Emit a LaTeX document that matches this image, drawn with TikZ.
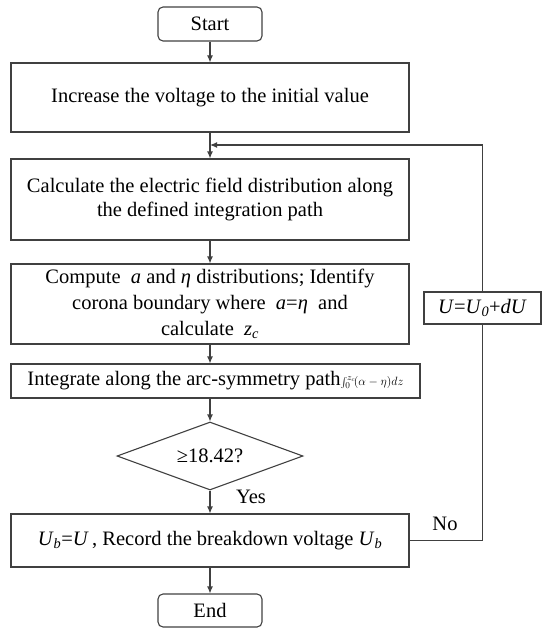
\documentclass[tikz,border=0pt]{standalone}
\usepackage{fontspec}
\setmainfont{Liberation Serif}
\usetikzlibrary{positioning,shapes.geometric,arrows.meta}

\tikzset{
  flowline/.style={draw=black!75,line width=1.1pt},
  arr/.style={flowline,-{Latex[length=7pt,width=6pt]}},
  procbox/.style={flowline,rectangle,align=center,inner sep=2pt,
    minimum width=398pt,font=\fontsize{20.5}{23.5}\selectfont},
  termbox/.style={procbox,rounded corners=5pt,minimum width=104pt,minimum height=34pt},
  decbox/.style={flowline,diamond,aspect=2.75,inner sep=0pt,
    minimum width=186pt,minimum height=68pt,font=\fontsize{20.5}{23.5}\selectfont},
  lbl/.style={font=\fontsize{20.5}{23.5}\selectfont}
}
\newcommand{\iv}[1]{\textit{#1}}

\begin{document}
\begin{tikzpicture}[x=1pt,y=1pt]
  \useasboundingbox (0,0) rectangle (550,-634);
  % main column
  \node[termbox] (start) at (210,-24) {Start};
  \node[procbox,minimum height=69pt] (inc) at (210,-97.5)
    {Increase the voltage to the initial value};
  \node[procbox,minimum height=81pt] (calc) at (210,-199.5)
    {Calculate the electric field distribution along\\the defined integration path};
  \node[procbox,minimum height=80pt,font=\fontsize{20.5}{26}\selectfont] (comp) at (210,-304)
    {Compute\ \ \iv{a} and \iv{η} distributions; Identify\\
     corona boundary where\ \ \iv{a}=\iv{η}\ \ and\\
     calculate\ \ \iv{z}\textsubscript{\iv{c}}};
  \node[procbox,minimum width=409pt,minimum height=34pt,inner sep=0pt] (integ) at (215.5,-381)
    {Integrate along the arc-symmetry path{\fontsize{13}{13}\selectfont$\int_0^{z_c}\!(\alpha-\eta)dz$}};
  \node[decbox] (check) at (210,-456) {≥18.42?};
  \node[procbox,minimum height=53pt] (rec) at (210,-540.5)
    {\iv{U}\textsubscript{\iv{b}}=\iv{U}\,, Record the breakdown voltage \iv{U}\textsubscript{\iv{b}}};
  \node[termbox,minimum height=33pt] (stop) at (210,-610.5) {End};
  % update branch
  \node[procbox,minimum width=117pt,minimum height=32pt] (upd) at (482.5,-308)
    {\iv{U}=\iv{U}\textsubscript{\iv{0}}+\iv{dU}};
  \coordinate (join) at (210,-145);
  \node[lbl] (yes) at (251,-497) {Yes};
  \node[lbl] (no) at (445,-524) {No};
  % connectors
  \draw[arr] (start) -- (inc);
  \draw[arr] (inc) -- (calc);
  \draw[arr] (calc) -- (comp);
  \draw[arr] (comp) -- (comp|-integ.north);
  \draw[arr] (check.north|-integ.south) -- (check);
  \draw[arr] (check) -- (rec);
  \draw[arr] (rec) -- (stop);
  \draw[flowline] (rec.east) -| (upd.south);
  \draw[arr] (upd.north) |- (join);
\end{tikzpicture}
\end{document}
